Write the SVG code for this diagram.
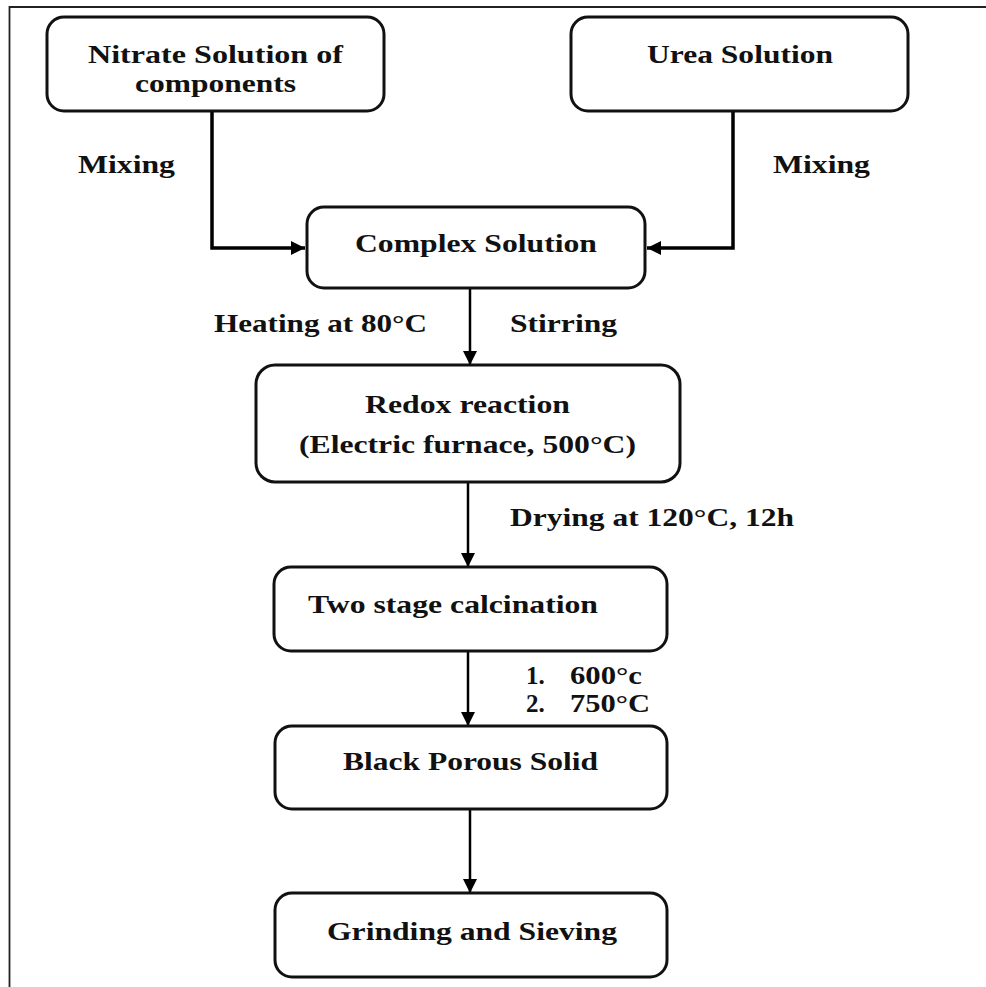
<svg xmlns="http://www.w3.org/2000/svg" width="986" height="987" viewBox="0 0 986 987">
<style>
.box{fill:#fff;stroke:#111;stroke-width:3}
.t{font-family:"Liberation Serif","Times New Roman",serif;font-weight:bold;font-size:25px;fill:#111}
.c{fill:none;stroke:#000}
</style>
<defs>
<marker id="ah" markerUnits="userSpaceOnUse" markerWidth="16" markerHeight="16" refX="14" refY="7" orient="auto">
<path d="M0,0 L14,7 L0,14 Z" fill="#000"/>
</marker>
</defs>
<rect width="986" height="987" fill="#fff"/>
<g id="frame">
<path d="M9.5,987 V7 H986" fill="none" stroke="#222" stroke-width="1.8"/>
</g>
<g id="connectors">
<path class="c" d="M212,111 V248 H305" stroke-width="3.5" marker-end="url(#ah)"/>
<path class="c" d="M733,111 V248 H647" stroke-width="3.5" marker-end="url(#ah)"/>
<path class="c" d="M470,288 V365" stroke-width="2.5" marker-end="url(#ah)"/>
<path class="c" d="M468,482 V567" stroke-width="2.5" marker-end="url(#ah)"/>
<path class="c" d="M468,651 V726" stroke-width="2.5" marker-end="url(#ah)"/>
<path class="c" d="M470,809 V893" stroke-width="2.5" marker-end="url(#ah)"/>
<text class="t" x="78" y="173" textLength="97" lengthAdjust="spacingAndGlyphs">Mixing</text>
<text class="t" x="773" y="173" textLength="97" lengthAdjust="spacingAndGlyphs">Mixing</text>
<text class="t" x="214" y="332" textLength="213" lengthAdjust="spacingAndGlyphs">Heating at 80°C</text>
<text class="t" x="510" y="332" textLength="107" lengthAdjust="spacingAndGlyphs">Stirring</text>
<text class="t" x="510" y="526" textLength="284" lengthAdjust="spacingAndGlyphs">Drying at 120°C, 12h</text>
<text class="t" x="526" y="684">1.</text>
<text class="t" x="570" y="684" textLength="72" lengthAdjust="spacingAndGlyphs">600°c</text>
<text class="t" x="526" y="712">2.</text>
<text class="t" x="570" y="712" textLength="80" lengthAdjust="spacingAndGlyphs">750°C</text>
</g>
<g id="nitrate">
<rect class="box" x="47" y="17" width="337" height="94" rx="17"/>
<text class="t" x="88" y="63" textLength="255" lengthAdjust="spacingAndGlyphs">Nitrate Solution of</text>
<text class="t" x="135" y="92" textLength="161" lengthAdjust="spacingAndGlyphs">components</text>
</g>
<g id="urea">
<rect class="box" x="571" y="17" width="337" height="94" rx="17"/>
<text class="t" x="647" y="63" textLength="186" lengthAdjust="spacingAndGlyphs">Urea Solution</text>
</g>
<g id="complex">
<rect class="box" x="307" y="207" width="338" height="81" rx="17"/>
<text class="t" x="355" y="252" textLength="242" lengthAdjust="spacingAndGlyphs">Complex Solution</text>
</g>
<g id="redox">
<rect class="box" x="256" y="365" width="424" height="117" rx="19"/>
<text class="t" x="365" y="413" textLength="205" lengthAdjust="spacingAndGlyphs">Redox reaction</text>
<text class="t" x="299" y="453" textLength="337" lengthAdjust="spacingAndGlyphs">(Electric furnace, 500°C)</text>
</g>
<g id="calcination">
<rect class="box" x="274" y="567" width="393" height="84" rx="17"/>
<text class="t" x="308" y="613" textLength="290" lengthAdjust="spacingAndGlyphs">Two stage calcination</text>
</g>
<g id="black">
<rect class="box" x="275" y="726" width="392" height="83" rx="17"/>
<text class="t" x="343" y="770" textLength="255" lengthAdjust="spacingAndGlyphs">Black Porous Solid</text>
</g>
<g id="grinding">
<rect class="box" x="275" y="893" width="392" height="84" rx="17"/>
<text class="t" x="327" y="940" textLength="290" lengthAdjust="spacingAndGlyphs">Grinding and Sieving</text>
</g>
</svg>
